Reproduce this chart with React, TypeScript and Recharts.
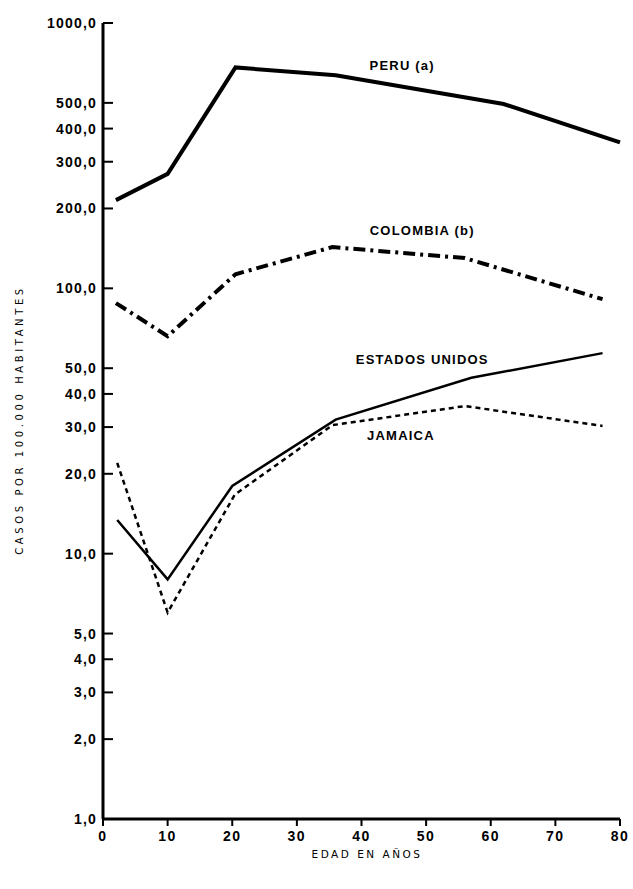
import { LineChart, Line, XAxis, YAxis, ReferenceDot } from "recharts";

// edades (años) y casos por 100.000 habitantes
const peruEdad = [2, 10, 20.5, 36, 62, 80];
const peruCasos = [215, 270, 680, 635, 495, 355];

const colombiaEdad = [2, 10, 20.5, 35.5, 56, 77.3];
const colombiaCasos = [88, 66, 113, 143, 130, 91];

const eeuuEdad = [2.2, 10, 20, 36, 57, 77.3];
const eeuuCasos = [13.4, 8.0, 18, 32, 46, 57];

const jamaicaEdad = [2.2, 10, 20.4, 35.5, 56, 77.3];
const jamaicaCasos = [22, 6.0, 16.7, 30.5, 36, 30.3];

const ticksX = [0, 10, 20, 30, 40, 50, 60, 70, 80];
const ticksY = [1, 2, 3, 4, 5, 10, 20, 30, 40, 50, 100, 200, 300, 400, 500, 1000];

const etiquetas = [
  { texto: "PERU (a)", edad: 46.3, casos: 690 },
  { texto: "COLOMBIA (b)", edad: 49.4, casos: 165 },
  { texto: "ESTADOS UNIDOS", edad: 49.4, casos: 54 },
  { texto: "JAMAICA", edad: 46.1, casos: 28 },
];

const serie = (edad: number[], casos: number[]) =>
  edad.map((e, i) => ({ edad: e, casos: casos[i] }));

const negrita = "'Liberation Sans', Arial, sans-serif";
const fmt = (v: number) => v.toFixed(1).replace(".", ",");

export default function App() {
  return (
    <div style={{ position: "absolute", left: 0, top: 0, width: 633, height: 889, background: "#fff" }}>
      <LineChart width={633} height={889} margin={{ top: 23, right: 13, bottom: 40, left: 0 }}>
        <XAxis
          type="number"
          dataKey="edad"
          domain={[0, 80]}
          ticks={ticksX}
          height={30}
          allowDuplicatedCategory={false}
          axisLine={{ stroke: "#000", strokeWidth: 3 }}
          tickLine={{ stroke: "#000", strokeWidth: 2 }}
          tickSize={7}
          tickMargin={5}
          tick={{ fill: "#000", fontSize: 14, fontWeight: 700, fontFamily: negrita, letterSpacing: 1.5 }}
        />
        <YAxis
          type="number"
          scale="log"
          domain={[1, 1000]}
          ticks={ticksY}
          allowDataOverflow
          width={103}
          tickFormatter={fmt}
          axisLine={{ stroke: "#000", strokeWidth: 3 }}
          tickLine={{ stroke: "#000", strokeWidth: 2 }}
          tickSize={-10}
          tickMargin={16}
          tick={{ fill: "#000", fontSize: 14, fontWeight: 700, fontFamily: negrita, letterSpacing: 1.2 }}
        />
        <Line data={serie(peruEdad, peruCasos)} dataKey="casos" stroke="#000" strokeWidth={4} dot={false} isAnimationActive={false} />
        <Line data={serie(colombiaEdad, colombiaCasos)} dataKey="casos" stroke="#000" strokeWidth={4} strokeDasharray="12 5 3 5" dot={false} isAnimationActive={false} />
        <Line data={serie(eeuuEdad, eeuuCasos)} dataKey="casos" stroke="#000" strokeWidth={2.5} dot={false} isAnimationActive={false} />
        <Line data={serie(jamaicaEdad, jamaicaCasos)} dataKey="casos" stroke="#000" strokeWidth={2.5} strokeDasharray="5 4" dot={false} isAnimationActive={false} />
        {etiquetas.map((l) => (
          <ReferenceDot
            key={l.texto}
            x={l.edad}
            y={l.casos}
            r={0}
            ifOverflow="visible"
            label={{
              value: l.texto,
              position: "center",
              fill: "#000",
              fontSize: 13,
              fontWeight: 700,
              fontFamily: negrita,
              letterSpacing: 1.2,
            }}
          />
        ))}
      </LineChart>
      <svg width={633} height={889} style={{ position: "absolute", left: 0, top: 0, pointerEvents: "none" }}>
        <text
          x={20}
          y={420}
          transform="rotate(-90 20 420)"
          textAnchor="middle"
          dominantBaseline="middle"
          fontFamily="'DejaVu Sans', sans-serif"
          fontSize={10}
          letterSpacing={3.6}
          fill="#000"
        >
          CASOS POR 100.000 HABITANTES
        </text>
        <text
          x={367}
          y={855}
          textAnchor="middle"
          dominantBaseline="middle"
          fontFamily="'DejaVu Sans', sans-serif"
          fontSize={10.5}
          letterSpacing={2.5}
          fill="#000"
        >
          EDAD EN AÑOS
        </text>
      </svg>
    </div>
  );
}
